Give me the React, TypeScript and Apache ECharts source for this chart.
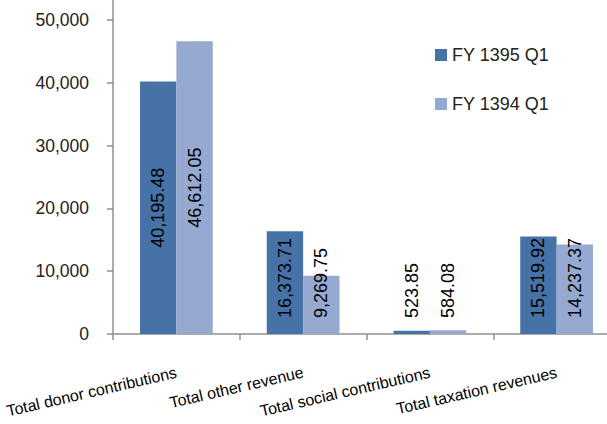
import React, { useEffect, useRef } from "react";
import * as echarts from "echarts";

const categories = [
  "Total donor contributions",
  "Total other revenue",
  "Total social contributions",
  "Total taxation revenues",
];
const seriesNames = ["FY 1395 Q1", "FY 1394 Q1"];
const fy1395 = [40195.48, 16373.71, 523.85, 15519.92];
const fy1394 = [46612.05, 9269.75, 584.08, 14237.37];
const yTicks = { min: 0, max: 50000, interval: 10000 };
const colors = ["#4672A8", "#95A9D1"];

const FONT = "'Liberation Sans', Arial, sans-serif";
const AXIS_COLOR = "#8f8f8f";

function fmt(v: number) {
  return v.toLocaleString("en-US", { minimumFractionDigits: 2, maximumFractionDigits: 2 });
}

function dataWithLabels(values: number[]) {
  return values.map((v) => {
    const centered = v > 20000;
    return {
      value: v,
      label: centered
        ? { position: "inside", align: "center", verticalAlign: "middle", distance: 0 }
        : { position: "insideBottom", align: "left", verticalAlign: "middle", distance: 16 },
    };
  });
}

export default function App() {
  const ref = useRef<HTMLDivElement>(null);
  useEffect(() => {
    if (!ref.current) return;
    const chart = echarts.init(ref.current, undefined, { renderer: "svg" });
    const labelBase = {
      show: true,
      rotate: 90,
      color: "#000",
      fontFamily: FONT,
      fontSize: 18,
      formatter: (p: any) => fmt(p.value),
    };
    chart.setOption({
      animation: false,
      backgroundColor: "#fff",
      textStyle: { fontFamily: FONT },
      grid: { left: 113, top: 20, height: 314, right: 0, containLabel: false },
      legend: {
        orient: "vertical",
        left: 430,
        top: 41,
        itemWidth: 12,
        itemHeight: 12,
        itemGap: 31,
        icon: "rect",
        textStyle: { fontFamily: FONT, fontSize: 18, color: "#222" },
        data: seriesNames,
      },
      xAxis: {
        type: "category",
        data: categories,
        boundaryGap: true,
        axisLine: { show: true, lineStyle: { color: AXIS_COLOR, width: 1.5 } },
        axisTick: { show: true, length: 6, alignWithLabel: false, lineStyle: { color: AXIS_COLOR, width: 1.5 } },
        axisLabel: {
          rotate: 13,
          margin: 38,
          fontFamily: FONT,
          fontSize: 16,
          color: "#000",
          interval: 0,
        },
        splitLine: { show: false },
      },
      yAxis: {
        type: "value",
        min: yTicks.min,
        max: yTicks.max,
        interval: yTicks.interval,
        axisLine: { show: true, lineStyle: { color: AXIS_COLOR, width: 1.5 } },
        axisTick: { show: true, length: 6, lineStyle: { color: AXIS_COLOR, width: 1.5 } },
        axisLabel: {
          margin: 24,
          fontFamily: FONT,
          fontSize: 17.5,
          color: "#222",
          formatter: (v: number) => v.toLocaleString("en-US"),
        },
        splitLine: { show: false },
      },
      graphic: [
        {
          type: "line",
          shape: { x1: 113, y1: 0, x2: 113, y2: 20 },
          style: { stroke: AXIS_COLOR, lineWidth: 1.5 },
          silent: true,
        },
      ],
      series: [
        {
          name: seriesNames[0],
          type: "bar",
          data: dataWithLabels(fy1395),
          itemStyle: { color: colors[0] },
          barGap: "0%",
          barCategoryGap: "42.6%",
          label: labelBase,
        },
        {
          name: seriesNames[1],
          type: "bar",
          data: dataWithLabels(fy1394),
          itemStyle: { color: colors[1] },
          barGap: "0%",
          barCategoryGap: "42.6%",
          label: labelBase,
        },
      ],
    });
    return () => chart.dispose();
  }, []);
  return (
    <div
      style={{
        position: "fixed",
        left: 0,
        top: 0,
        width: 607,
        height: 424,
        overflow: "hidden",
        background: "#fff",
      }}
    >
      <div ref={ref} style={{ width: 620, height: 424 }} />
    </div>
  );
}
